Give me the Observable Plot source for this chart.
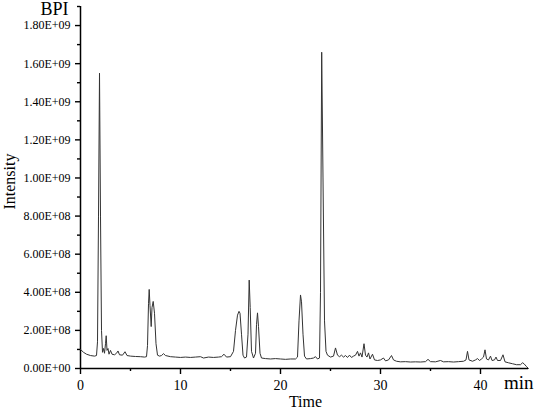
<!DOCTYPE html>
<html>
<head>
<meta charset="utf-8">
<script src="https://cdn.jsdelivr.net/npm/d3@7"></script>
<script src="https://cdn.jsdelivr.net/npm/@observablehq/plot@0.6"></script>
<style>
  html, body { margin: 0; padding: 0; background: #fff; }
  #chart { width: 536px; height: 411px; }
  #chart svg text { font-family: 'Liberation Serif', 'Times New Roman', serif; }
</style>
</head>
<body>
<div id="chart"></div>
<script>
// Retention time (min)
const time = [
  0.0, 0.3, 0.6, 1.0, 1.4, 1.6, 1.7, 1.8, 1.9, 2.0, 2.1, 2.2, 2.3, 2.4, 2.5, 2.57, 2.65, 2.75, 2.85,
  3.0, 3.15, 3.4, 3.6, 3.75, 3.9, 4.2, 4.45, 4.65, 5.0, 5.5, 6.0, 6.4, 6.6, 6.7, 6.8, 6.87, 6.95,
  7.07, 7.15, 7.27, 7.4, 7.55, 7.7, 7.9, 8.1, 8.3, 8.5, 9.0, 9.5, 10.0, 10.5, 11.0, 11.5, 12.0,
  12.3, 12.8, 13.3, 13.8, 14.1, 14.35, 14.6, 15.0, 15.3, 15.5, 15.7, 15.85, 15.95, 16.1, 16.25,
  16.4, 16.6, 16.75, 16.87, 16.97, 17.1, 17.3, 17.5, 17.6, 17.7, 17.8, 17.95, 18.1, 18.5, 19.0,
  19.5, 20.0, 20.5, 21.0, 21.5, 21.7, 21.85, 22.0, 22.1, 22.25, 22.4, 22.6, 23.0, 23.3, 23.5,
  23.7, 23.9, 24.0, 24.12, 24.25, 24.4, 24.55, 24.7, 25.0, 25.3, 25.5, 25.7, 25.9, 26.1, 26.3,
  26.5, 26.7, 26.9, 27.1, 27.3, 27.5, 27.7, 27.85, 28.0, 28.15, 28.35, 28.5, 28.65, 28.8, 28.95,
  29.2, 29.4, 29.7, 30.0, 30.3, 30.5, 30.8, 31.1, 31.3, 31.6, 32.0, 32.5, 33.0, 33.5, 34.0, 34.5,
  34.75, 35.0, 35.5, 36.0, 36.3, 36.8, 37.3, 37.8, 38.3, 38.55, 38.7, 38.85, 39.2, 39.5, 39.7,
  39.9, 40.1, 40.3, 40.45, 40.6, 40.8, 41.0, 41.15, 41.4, 41.55, 41.7, 42.0, 42.25, 42.45, 42.8,
  43.2, 43.6, 44.0, 44.2, 44.35, 44.6, 44.8
];
// BPI intensity, in units of 1E+08
const intensity = [
  1.00, 0.85, 0.75, 0.68, 0.65, 0.68, 1.40, 8.0, 15.5, 8.0, 2.0, 0.85, 1.05, 0.8, 1.3, 1.72, 0.95, 1.05, 0.75,
  0.95, 0.75, 0.72, 0.8, 0.92, 0.72, 0.7, 0.88, 0.68, 0.65, 0.63, 0.62, 0.6, 0.62, 1.2, 3.4, 4.15, 3.3,
  2.2, 3.2, 3.52, 2.9, 1.3, 0.7, 0.65, 0.68, 0.78, 0.68, 0.62, 0.6, 0.58, 0.6, 0.58, 0.6, 0.62,
  0.55, 0.6, 0.58, 0.6, 0.62, 0.75, 0.6, 0.62, 0.9, 2.0, 2.8, 3.0, 2.9, 1.8, 0.7,
  0.55, 0.6, 1.8, 4.64, 3.2, 0.9, 0.55, 0.8, 2.3, 2.92, 2.2, 0.8, 0.55, 0.52, 0.5,
  0.52, 0.5, 0.48, 0.5, 0.5, 0.6, 2.5, 3.86, 3.5, 1.8, 0.65, 0.5, 0.52, 0.55, 0.62,
  0.5, 0.55, 4.0, 16.6, 10.0, 2.5, 0.9, 0.7, 0.6, 0.65, 1.08, 0.7, 0.62, 0.7, 0.6,
  0.68, 0.58, 0.7, 0.58, 0.65, 0.7, 0.9, 0.65, 0.82, 0.6, 1.3, 0.7, 0.6, 0.82, 0.5,
  0.75, 0.45, 0.42, 0.45, 0.55, 0.4, 0.45, 0.68, 0.45, 0.38, 0.35, 0.36, 0.34, 0.35, 0.34, 0.36,
  0.48, 0.36, 0.35, 0.42, 0.35, 0.36, 0.34, 0.36, 0.38, 0.45, 0.9, 0.45, 0.38, 0.45, 0.52,
  0.42, 0.5, 0.6, 0.98, 0.5, 0.45, 0.65, 0.42, 0.45, 0.6, 0.42, 0.42, 0.72, 0.35, 0.3,
  0.25, 0.2, 0.2, 0.3, 0.25, 0.1, 0.0
];

const yTicks = [0, 2e8, 4e8, 6e8, 8e8, 1e9, 1.2e9, 1.4e9, 1.6e9, 1.8e9];
const yTickLabels = ["0.00E+00", "2.00E+08", "4.00E+08", "6.00E+08", "8.00E+08",
  "1.00E+09", "1.20E+09", "1.40E+09", "1.60E+09", "1.80E+09"];
const yMinorTicks = [1e8, 3e8, 5e8, 7e8, 9e8, 1.1e9, 1.3e9, 1.5e9, 1.7e9, 1.9e9];
const xTicks = [0, 10, 20, 30, 40];
const xMinorTicks = [5, 15, 25, 35];

const data = time.map((t, i) => ({t, v: intensity[i] * 1e8}));
const yLabelMap = new Map(yTicks.map((d, i) => [d, yTickLabels[i]]));
const serif = "'Liberation Serif', 'Times New Roman', serif";

const chart = Plot.plot({
  width: 536,
  height: 411,
  marginLeft: 80,
  marginRight: 8,
  marginTop: 6,
  marginBottom: 43,
  style: {fontFamily: serif, background: "#fff", color: "#000", overflow: "visible"},
  x: {domain: [0, 44.8]},
  y: {domain: [0, 1.9e9]},
  marks: [
    Plot.axisY({ticks: yTicks, tickFormat: d => yLabelMap.get(d), tickSize: 5, tickPadding: 5,
      fontSize: 12, fontFamily: serif, fontVariant: "normal", label: null, strokeWidth: 1.4}),
    Plot.axisY({ticks: yMinorTicks, tickSize: 3, text: null, label: null, strokeWidth: 1.4}),
    Plot.axisX({ticks: xTicks, tickSize: 6, tickPadding: 6, fontSize: 14, fontFamily: serif,
      fontVariant: "normal", label: null, strokeWidth: 1.4}),
    Plot.axisX({ticks: xMinorTicks, tickSize: 3, text: null, label: null, strokeWidth: 1.4}),
    Plot.ruleX([0], {stroke: "#000", strokeWidth: 1.5}),
    Plot.ruleY([0], {stroke: "#000", strokeWidth: 1.5}),
    Plot.line(data, {x: "t", y: "v", stroke: "#333", strokeWidth: 1}),
    Plot.text(["BPI"], {frameAnchor: "top-left", dx: -12, dy: 3, textAnchor: "end", lineAnchor: "middle", fontSize: 18, fontFamily: serif}),
    Plot.text(["Intensity"], {frameAnchor: "left", dx: -71, dy: -6, rotate: -90, textAnchor: "middle", lineAnchor: "middle", fontSize: 16, fontFamily: serif}),
    Plot.text(["Time"], {frameAnchor: "bottom", dx: 1, dy: 33, textAnchor: "middle", lineAnchor: "middle", fontSize: 16, fontFamily: serif}),
    Plot.text(["min"], {frameAnchor: "bottom-right", dx: 5, dy: 14, textAnchor: "end", lineAnchor: "middle", fontSize: 19, fontFamily: serif})
  ]
});
document.getElementById("chart").append(chart);
</script>
</body>
</html>
